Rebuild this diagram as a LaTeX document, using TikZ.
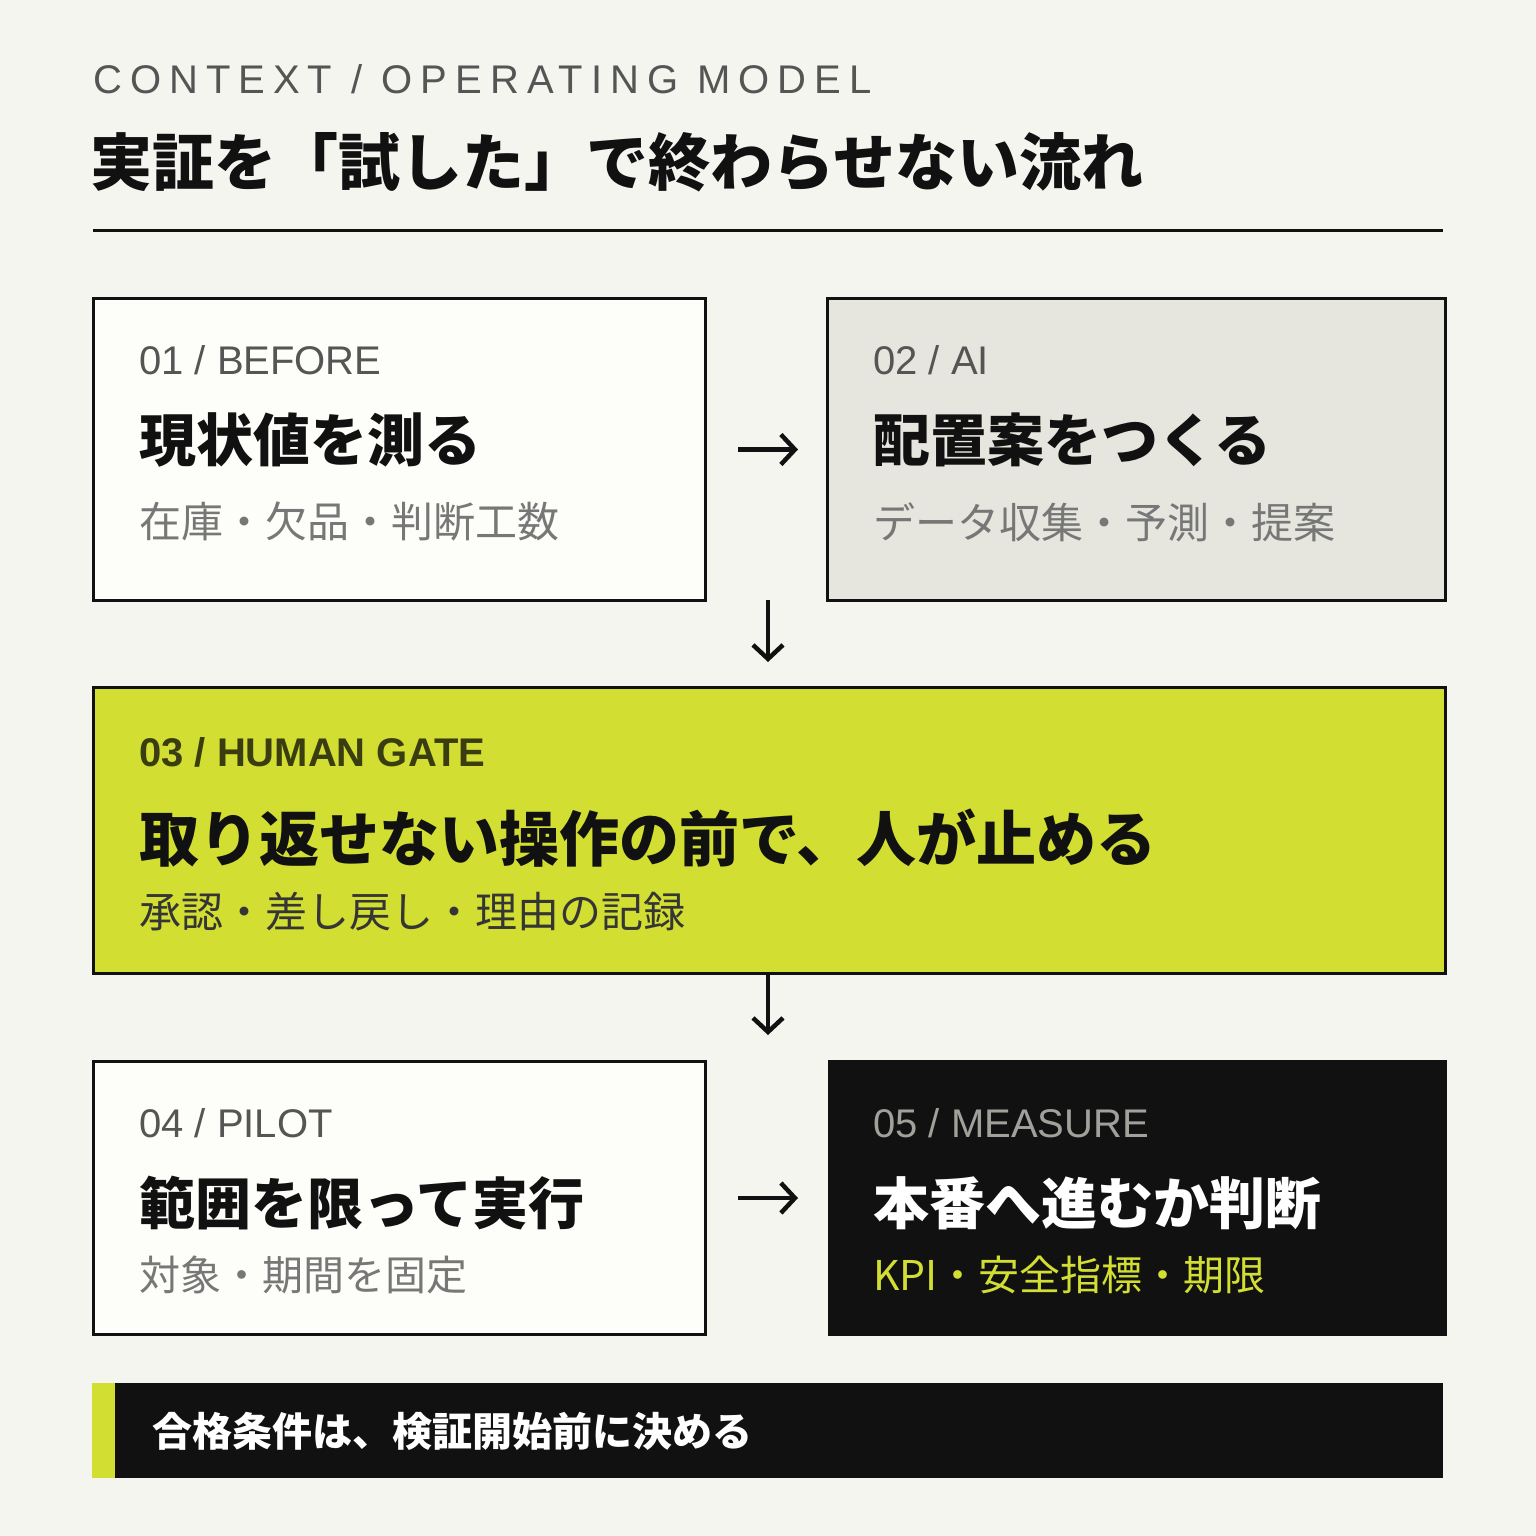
\documentclass[tikz,border=0pt]{standalone}
\usepackage{fontspec}
\setmainfont{Noto Sans CJK JP}[BoldFont={Noto Sans CJK JP Black}]
\newfontfamily\lat{Liberation Sans}
\usetikzlibrary{arrows.meta}
\definecolor{bg}{HTML}{F5F5F0}
\definecolor{boxw}{HTML}{FDFDF9}
\definecolor{boxg}{HTML}{E6E6DF}
\definecolor{lime}{HTML}{D2DE32}
\definecolor{ink}{HTML}{111111}
\definecolor{lab}{HTML}{555555}
\definecolor{sub}{HTML}{777777}
\definecolor{olive}{HTML}{3A3D10}
\tikzset{
 box/.style={draw=ink,line width=3pt,anchor=north west,inner sep=0pt},
 lbl/.style={anchor=west,inner sep=0pt,font=\lat\fontsize{40}{42}\selectfont,text=lab},
 head/.style={anchor=west,inner sep=0pt,font=\fontsize{56}{60}\selectfont\bfseries,text=ink},
 subt/.style={anchor=west,inner sep=0pt,font=\fontsize{42}{44}\selectfont,text=sub},
 arr/.style={line width=4.5pt,draw=ink,-{Straight Barb[length=14pt,width=30pt,line width=4.5pt]}}
}
\begin{document}
\begin{tikzpicture}[x=1pt,y=-1pt]
\fill[bg] (0,0) rectangle (1536,1536);
\useasboundingbox (0,0) rectangle (1536,1536);
\node[anchor=west,inner sep=0pt,text=lab,font=\lat\fontsize{40}{42}\selectfont\addfontfeature{LetterSpace=20}] (ctx) at (93,79) {CONTEXT / OPERATING MODEL};
\node[anchor=west,inner sep=0pt,text=ink,font=\fontsize{62}{66}\selectfont\bfseries] (title) at (90,162) {実証を「試した」で終わらせない流れ};
\draw[line width=3pt,ink] (93,230) -- (1443,230);
% boxes
\node[box,fill=boxw,minimum width=612pt,minimum height=302pt] (b1) at (92,297) {};
\node[box,fill=boxg,minimum width=618pt,minimum height=302pt] (b2) at (826,297) {};
\node[box,fill=lime,minimum width=1352pt,minimum height=286pt] (b3) at (92,686) {};
\node[box,fill=boxw,minimum width=612pt,minimum height=273pt] (b4) at (92,1060) {};
\node[box,fill=ink,minimum width=616pt,minimum height=273pt] (b5) at (828,1060) {};
% texts
\node[lbl] (t1a) at (139,360) {01 / BEFORE};
\node[head,font=\fontsize{57}{60}\selectfont\bfseries] (t1b) at (139,440) {現状値を測る};
\node[subt] (t1c) at (139,522) {在庫・欠品・判断工数};
\node[lbl] (t2a) at (873,360) {02 / AI};
\node[head,font=\fontsize{57}{60}\selectfont\bfseries] (t2b) at (873,440) {配置案をつくる};
\node[subt] (t2c) at (873,522) {データ収集・予測・提案};
\node[lbl,text=olive,font=\lat\fontsize{40}{42}\selectfont\bfseries] (t3a) at (139,752) {03 / HUMAN GATE};
\node[head,font=\fontsize{60}{64}\selectfont\bfseries] (t3b) at (139,838) {取り返せない操作の前で、人が止める};
\node[subt,text=ink!85] (t3c) at (139,912) {承認・差し戻し・理由の記録};
\node[lbl] (t4a) at (139,1123) {04 / PILOT};
\node[head] (t4b) at (139,1203) {範囲を限って実行};
\node[subt,font=\fontsize{41}{44}\selectfont] (t4c) at (139,1275) {対象・期間を固定};
\node[lbl,text=boxg!70!black] (t5a) at (873,1123) {05 / MEASURE};
\node[head,text=white] (t5b) at (873,1203) {本番へ進むか判断};
\node[subt,text=lime,font=\fontsize{41}{44}\selectfont] (t5c) at (873,1275) {KPI・安全指標・期限};
% arrows
\coordinate (d1s) at (768,600); \coordinate (d1e) at (768,662);
\coordinate (d2s) at (768,975); \coordinate (d2e) at (768,1035);
\draw[arr] ([xshift=31pt]b1.east) -- ([xshift=-28pt]b2.west);
\draw[arr] (d1s) -- (d1e);
\draw[arr] (d2s) -- (d2e);
\draw[arr] ([xshift=31pt]b4.east) -- ([xshift=-30pt]b5.west);
% bottom bar
\node[anchor=north west,inner sep=0pt,fill=ink,minimum width=1351pt,minimum height=95pt] (bar) at (92,1383) {};
\fill[lime] (92,1383) rectangle (115,1478);
\node[anchor=west,inner sep=0pt,text=white,font=\fontsize{40}{42}\selectfont\bfseries] (bt) at (152,1431) {合格条件は、検証開始前に決める};
\end{tikzpicture}
\end{document}
